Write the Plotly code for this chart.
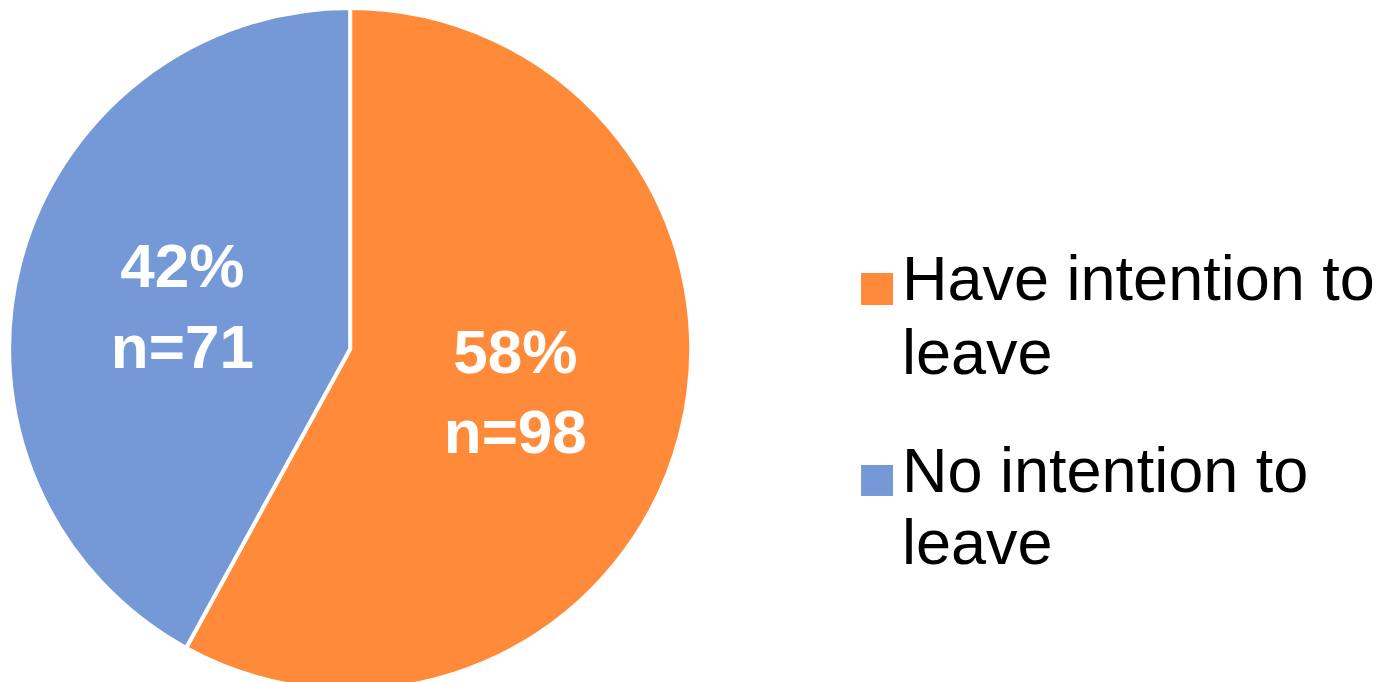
import plotly.graph_objects as go

labels = ["Have intention to<br>leave", "No intention to<br>leave"]
counts = [98, 71]
percents = ["58%", "42%"]
colors = ["#FF8B3A", "#7599D7"]

texts = [f"{p}<br>n={c}" for p, c in zip(percents, counts)]

fig = go.Figure(go.Pie(
    labels=labels,
    values=counts,
    text=texts,
    textinfo="text",
    textposition="inside",
    insidetextorientation="horizontal",
    sort=False,
    direction="clockwise",
    rotation=0,
    marker=dict(colors=colors, line=dict(color="white", width=4)),
    textfont=dict(family="Liberation Sans, Arial", size=62, color="white", weight="bold"),
    domain=dict(x=[0.0, 0.493], y=[0.0, 1.0]),
    hoverinfo="skip",
    showlegend=False,
))

# Custom legend (large square swatches, tight line spacing)
legend_x_sw = [0.6146, 0.6376]
legend_rows = [(0.6114, 0.5645), (0.3299, 0.2845)]
line_centers = [[0.604, 0.495], [0.322, 0.217]]

shapes = []
annotations = []
for i, lab in enumerate(labels):
    top, bot = legend_rows[i]
    shapes.append(dict(type="rect", xref="paper", yref="paper",
                       x0=legend_x_sw[0], x1=legend_x_sw[1], y0=bot, y1=top,
                       fillcolor=colors[i], line=dict(width=0)))
    for j, line in enumerate(lab.split("<br>")):
        annotations.append(dict(
            xref="paper", yref="paper", x=0.6425, y=line_centers[i][j],
            xanchor="left", yanchor="middle", text=line, showarrow=False,
            font=dict(family="Liberation Sans, Arial", size=63, color="black"),
        ))

fig.update_layout(
    width=1388, height=682,
    margin=dict(l=0, r=0, t=0, b=0),
    paper_bgcolor="white",
    plot_bgcolor="white",
    showlegend=False,
    shapes=shapes,
    annotations=annotations,
    uniformtext=dict(minsize=62, mode="show"),
)

fig.write_html("out.html")
